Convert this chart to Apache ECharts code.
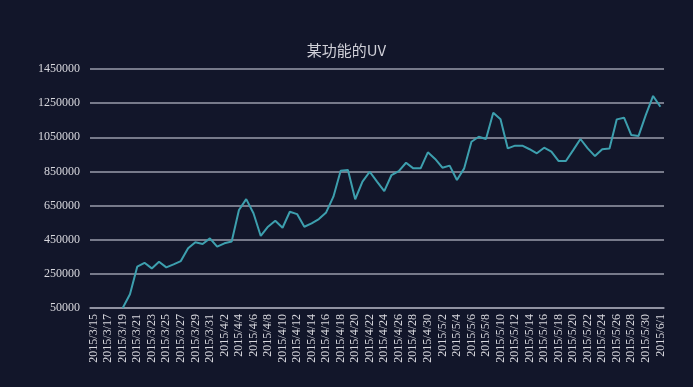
<!DOCTYPE html>
<html>
<head>
<meta charset="utf-8">
<script src="https://cdn.jsdelivr.net/npm/echarts@6/dist/echarts.min.js"></script>
<style>
html,body{margin:0;padding:0;background:#12162a;}
#c{width:693px;height:387px;}
</style>
</head>
<body>
<div id="c"></div>
<script>
const titleText = '某功能的UV';
const dates = [
 '2015/3/15','2015/3/16','2015/3/17','2015/3/18','2015/3/19','2015/3/20','2015/3/21','2015/3/22','2015/3/23','2015/3/24',
 '2015/3/25','2015/3/26','2015/3/27','2015/3/28','2015/3/29','2015/3/30','2015/3/31',
 '2015/4/1','2015/4/2','2015/4/3','2015/4/4','2015/4/5','2015/4/6','2015/4/7','2015/4/8','2015/4/9','2015/4/10',
 '2015/4/11','2015/4/12','2015/4/13','2015/4/14','2015/4/15','2015/4/16','2015/4/17','2015/4/18','2015/4/19','2015/4/20',
 '2015/4/21','2015/4/22','2015/4/23','2015/4/24','2015/4/25','2015/4/26','2015/4/27','2015/4/28','2015/4/29','2015/4/30',
 '2015/5/1','2015/5/2','2015/5/3','2015/5/4','2015/5/5','2015/5/6','2015/5/7','2015/5/8','2015/5/9','2015/5/10',
 '2015/5/11','2015/5/12','2015/5/13','2015/5/14','2015/5/15','2015/5/16','2015/5/17','2015/5/18','2015/5/19','2015/5/20',
 '2015/5/21','2015/5/22','2015/5/23','2015/5/24','2015/5/25','2015/5/26','2015/5/27','2015/5/28','2015/5/29','2015/5/30',
 '2015/5/31','2015/6/1'
];
const uv = [
 null,null,null,null,50000,130000,292000,315000,282000,321000,
 288000,306000,325000,400000,435000,425000,458000,
 409000,429000,440000,624000,688000,605000,472000,526000,561000,520000,
 614000,600000,526000,546000,571000,610000,702000,854000,858000,687000,
 790000,848000,790000,735000,829000,852000,901000,868000,868000,962000,
 923000,872000,884000,800000,868000,1024000,1053000,1040000,1194000,1155000,
 985000,1001000,1001000,980000,956000,989000,966000,911000,911000,975000,
 1040000,985000,940000,980000,985000,1155000,1165000,1063000,1058000,1181000,
 1292000,1229000
];
const yTicks = [50000,250000,450000,650000,850000,1050000,1250000,1450000];

const chart = echarts.init(document.getElementById('c'), null, {renderer:'canvas'});
chart.setOption({
  backgroundColor: '#12162a',
  animation: false,
  title: {
    text: titleText, left: 'center', top: 38,
    textStyle: {color:'#d0d0d8', fontSize:15, fontWeight:'normal', fontFamily:'Noto Sans CJK SC'}
  },
  grid: {left: 90, right: 29, top: 69, bottom: 79},
  xAxis: {
    type: 'category', data: dates, boundaryGap: true,
    axisLine: {show:true, lineStyle:{color:'#9a9cab', width:1.5}},
    axisTick: {show:false},
    axisLabel: {rotate: 90, interval: 1, color:'#d8d8de', fontSize: 12, fontFamily:'Liberation Serif', margin: 6}
  },
  yAxis: {
    type: 'value', min: yTicks[0], max: yTicks[yTicks.length-1],
    axisLine: {show:false},
    axisTick: {show:false, customValues: yTicks},
    axisLabel: {customValues: yTicks, color:'#d8d8de', fontSize: 12, fontFamily:'Liberation Serif', margin: 10,
      formatter: function (v) { return String(v); }},
    splitLine: {show:true, lineStyle:{color:'#9a9cab', width:1.5}}
  },
  series: [{
    type: 'line', data: uv, showSymbol: false, connectNulls: false,
    lineStyle: {color:'#3d9fae', width: 2}
  }]
});
</script>
</body>
</html>
